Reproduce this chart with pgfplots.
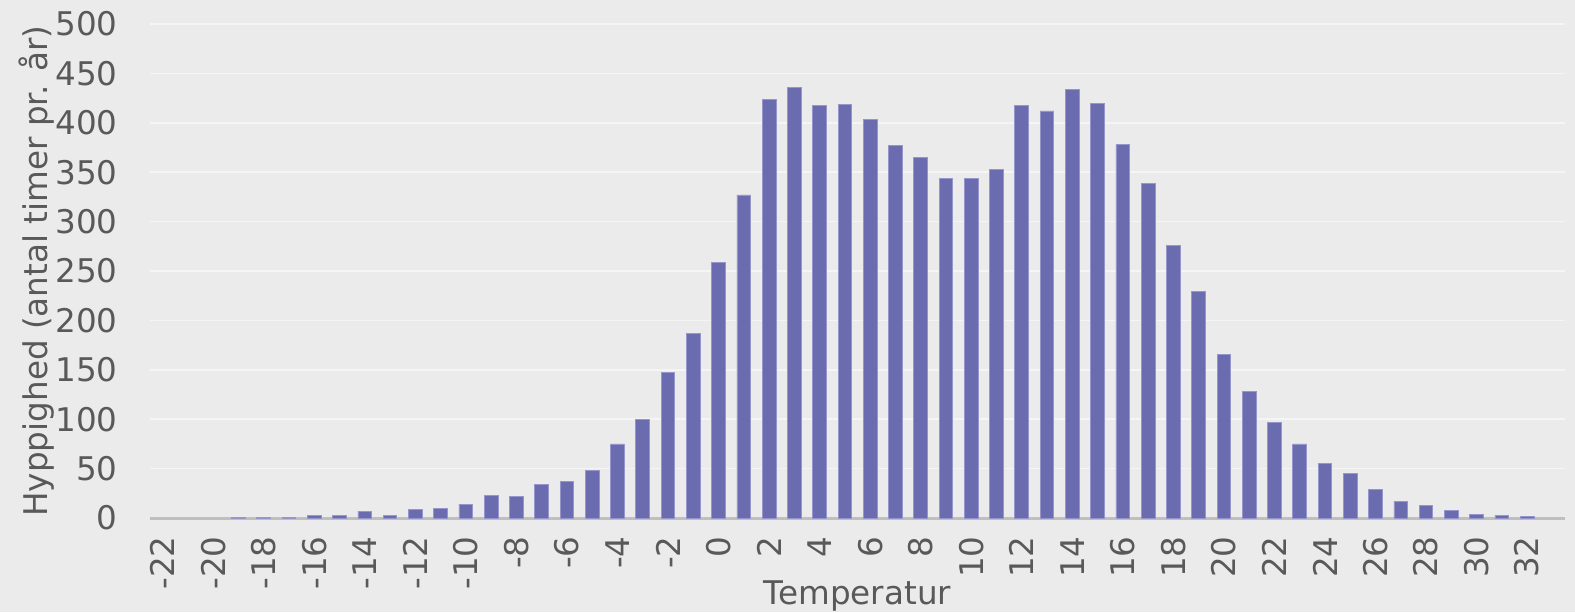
\documentclass[border=0pt]{standalone}
\usepackage{fontspec}
\setmainfont{DejaVu Sans}
\usepackage{pgfplots}
\pgfplotsset{compat=1.18}
\definecolor{bgc}{RGB}{235,235,235}
\definecolor{gridc}{RGB}{245,245,245}
\definecolor{axc}{RGB}{191,191,191}
\definecolor{txt}{RGB}{89,89,89}
\definecolor{barc}{RGB}{107,108,176}
\definecolor{bare}{RGB}{150,150,205}
\begin{document}
\begin{tikzpicture}[font=\fontsize{16.3}{19}\selectfont]
\useasboundingbox[fill=bgc] (-75pt,-47pt) rectangle (712.5pt,259pt);
\begin{axis}[
  at={(0,0)}, anchor=south west,
  scale only axis, width=707.5pt, height=247pt,
  xmin=-22.5, xmax=33.5, ymin=0, ymax=500,
  ybar, bar width=6.85pt,
  xtick={-22,-20,...,32},
  xticklabels={-22,-20,-18,-16,-14,-12,-10,-8,-6,-4,-2,0,2,4,6,8,10,12,14,16,18,20,22,24,26,28,30,32},
  ytick={0,50,...,500},
  /pgf/number format/assume math mode=true,
  major tick length=0pt,
  axis x line*=bottom, axis y line*=left,
  separate axis lines,
  x axis line style={-, draw=axc, line width=1.5pt},
  y axis line style={draw=none},
  ymajorgrids, grid style={draw=gridc, line width=0.8pt},
  tick label style={text=txt},
  xticklabel style={rotate=90, anchor=east, inner xsep=9pt},
  yticklabel style={anchor=east, inner xsep=0pt, xshift=-16pt},
  every axis x label/.style={at={(axis description cs:0.5,0)}, anchor=base, yshift=-43pt, text=txt},
  every axis y label/.style={at={(axis description cs:-0.0813,0.5)}, rotate=90, anchor=center, yshift=-1pt, text=txt},
  xlabel={Temperatur},
  ylabel={Hyppighed (antal timer pr. år)},
]
\addplot[fill=barc, draw=bare, line width=0.4pt] coordinates {
(-19,1) (-18,1) (-17,1) (-16,3) (-15,3) (-14,7) (-13,3) (-12,9) (-11,10) (-10,14)
(-9,23) (-8,22) (-7,34) (-6,37) (-5,48) (-4,75) (-3,100) (-2,147) (-1,187)
(0,259) (1,327) (2,424) (3,436) (4,418) (5,419) (6,403) (7,377) (8,365) (9,344)
(10,344) (11,353) (12,418) (13,412) (14,434) (15,420) (16,378) (17,339) (18,276)
(19,229) (20,166) (21,128) (22,97) (23,75) (24,55) (25,45) (26,29) (27,17) (28,13)
(29,8) (30,4) (31,3) (32,2)
};
\end{axis}
\end{tikzpicture}
\end{document}
